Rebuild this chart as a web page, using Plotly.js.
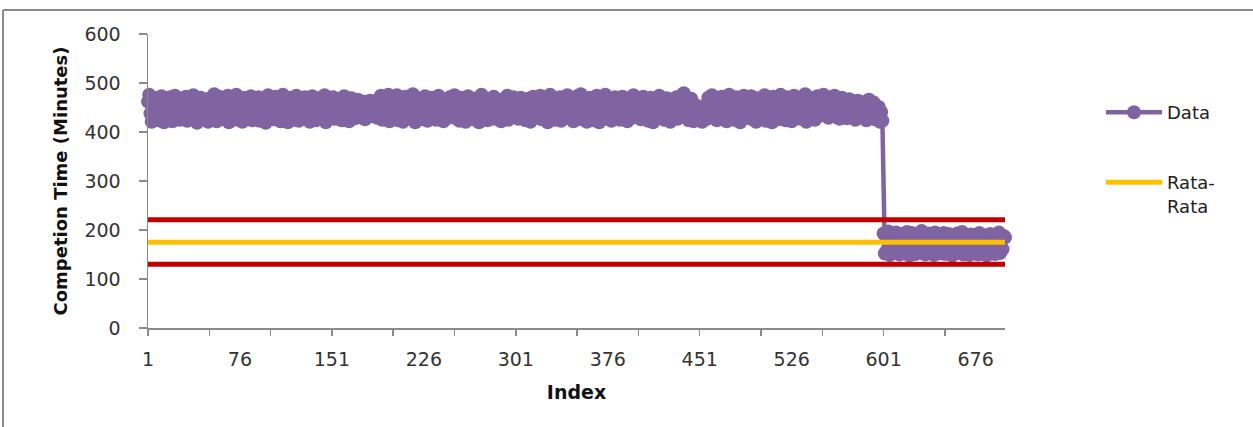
<!DOCTYPE html>
<html>
<head>
<meta charset="utf-8">
<script src="https://cdn.plot.ly/plotly-3.0.1.min.js"></script>
<style>
  html, body { margin: 0; padding: 0; background: #ffffff; }
  #chart { width: 1253px; height: 427px; }
</style>
</head>
<body>
<div id="chart"></div>
<script>
// ---- Data ----
// Completion time per index, phase 1 (index 1-600)
const phase1 = [
  462,476,438,421,455,470,429,447,468,424, 451,473,433,420,459,466,427,444,471,436,
  422,457,474,431,449,463,425,440,469,434, 452,472,423,446,461,428,437,475,430,454,
  419,465,441,470,426,448,458,432,467,421,
  445,469,428,453,477,434,422,460,472,439, 426,456,468,431,443,474,420,450,465,437,
  429,462,476,425,448,458,433,421,470,442, 455,467,427,436,473,424,451,463,430,446,
  471,423,459,440,466,432,419,457,475,435,
  449,464,426,438,472,431,454,467,422,444, 476,429,457,441,420,463,470,433,447,425,
  460,474,436,423,452,468,430,443,471,427, 456,439,421,465,473,434,448,424,461,442,
  469,428,453,437,475,420,450,466,432,445,
  458,471,427,440,463,430,452,468,424,446, 473,433,455,438,422,461,469,435,449,428,
  457,466,441,431,454,462,437,426,459,445, 450,464,432,443,456,439,460,429,467,436,
  474,425,453,470,431,448,476,422,465,440,
  468,430,455,475,424,447,462,437,421,459, 472,433,444,466,427,451,477,435,420,457,
  469,429,442,464,426,453,473,438,423,460, 445,470,431,448,463,425,456,474,434,441,
  467,422,450,461,428,439,471,432,458,446,
  475,428,452,466,423,443,470,436,459,421, 448,473,431,455,464,426,440,468,433,457,
  420,461,476,429,446,469,437,424,454,463, 432,450,472,427,444,458,435,465,422,453,
  467,430,441,474,425,449,460,434,471,438,
  456,465,427,442,470,431,453,461,424,447, 468,436,421,458,472,429,445,463,433,451,
  474,426,440,467,435,455,420,462,476,430, 448,469,425,443,459,437,471,423,452,464,
  432,446,475,428,457,466,434,422,460,441,
  473,429,450,477,426,444,464,436,421,458, 470,432,447,466,424,455,474,438,420,461,
  468,430,442,476,427,452,463,435,423,459, 446,471,431,449,465,425,456,472,433,440,
  469,422,453,462,428,445,475,434,460,439,
  448,467,426,441,472,430,455,463,423,446, 470,434,420,457,466,428,443,474,432,452,
  461,425,439,469,436,450,421,464,458,429, 447,471,427,444,460,433,476,479,431,454,
  465,424,442,468,435,422,456,437,428,449,
  430,445,421,452,438,426,458,470,433,447, 475,429,463,441,424,468,454,436,472,427,
  459,444,422,466,476,431,450,462,425,439, 471,434,456,420,465,443,474,428,453,467,
  432,448,473,426,460,437,421,469,446,435,
  464,429,452,475,423,441,467,434,457,420, 472,438,446,463,426,454,476,431,443,469,
  424,459,471,436,449,422,465,474,430,455, 440,468,427,451,462,433,477,421,458,445,
  470,428,437,466,425,453,473,432,460,442,
  456,476,434,448,468,429,453,471,438,444, 474,431,459,465,427,450,470,436,442,462,
  428,455,467,433,447,440,458,425,452,464, 437,445,461,430,449,457,424,443,466,432,
  454,439,460,426,446,435,451,421,441,423
];
// Completion time per index, phase 2 (index 601-700)
const phase2 = [
  193,152,186,160,197,149,178,190,155,171, 195,158,183,150,192,166,188,153,175,196,
  161,148,185,194,157,180,151,191,169,187, 154,198,163,176,150,189,159,193,172,156,
  184,149,195,165,181,152,190,158,177,194,
  151,186,162,192,155,179,148,188,170,157, 193,153,183,160,196,150,174,189,156,185,
  149,191,164,154,187,158,181,150,194,167, 152,190,159,178,148,186,163,192,155,172,
  189,151,184,157,195,153,180,161,188,185
];
const dataValues = phase1.concat(phase2);
const firstIndex = 1;
const lastIndex = dataValues.length;       // 700

const meanValue = 175;   // Rata-Rata
const uclValue  = 221;   // upper red line
const lclValue  = 130;   // lower red line

const xTickStart = 1;
const xLabelStep = 75;   // labels 1, 76, 151, ...
const xMarkStep  = 50;   // tick marks every 50
const yTickStep  = 100;

const purple = '#8064A2';
const red    = '#C00000';
const yellow = '#FFC000';

const traces = [
  {
    name: 'Data',
    type: 'scatter',
    mode: 'lines+markers',
    x0: firstIndex, dx: 1,
    y: dataValues,
    line: { color: purple, width: 4.5 },
    marker: { color: purple, size: 14, line: { width: 0 } },
    cliponaxis: false,
    legend: 'legend'
  },
  {
    name: 'UCL',
    type: 'scatter', mode: 'lines',
    x: [firstIndex, lastIndex], y: [uclValue, uclValue],
    line: { color: red, width: 5 },
    showlegend: false, hoverinfo: 'skip'
  },
  {
    name: 'LCL',
    type: 'scatter', mode: 'lines',
    x: [firstIndex, lastIndex], y: [lclValue, lclValue],
    line: { color: red, width: 5 },
    showlegend: false, hoverinfo: 'skip'
  },
  {
    name: 'Rata-<br>Rata',
    type: 'scatter', mode: 'lines',
    x: [firstIndex, lastIndex], y: [meanValue, meanValue],
    line: { color: yellow, width: 5 },
    legend: 'legend2'
  },
  {
    // helper so the tick-mark axis (x2) is drawn; fully transparent
    name: 'marks', type: 'scatter', mode: 'lines',
    x: [firstIndex, lastIndex], y: [meanValue, meanValue],
    xaxis: 'x2', opacity: 0, line: { width: 0 },
    showlegend: false, hoverinfo: 'skip'
  }
];

const tickFont = { family: 'DejaVu Sans', size: 19, color: '#333333' };
const legendFont = { family: 'DejaVu Sans', size: 18, color: '#222222' };

const layout = {
  width: 1253, height: 427,
  margin: { l: 148, r: 248, t: 34, b: 99 },
  paper_bgcolor: '#ffffff',
  plot_bgcolor: '#ffffff',
  showlegend: true,
  xaxis: {
    range: [firstIndex, lastIndex],
    tickmode: 'linear', tick0: xTickStart, dtick: xLabelStep,
    ticks: '', ticklabelstandoff: 14,
    showgrid: false, zeroline: false,
    showline: true, linecolor: '#8a8a8a', linewidth: 1.5,
    tickfont: tickFont,
    title: { text: 'Index', font: { family: 'DejaVu Sans', size: 19, color: '#111111', weight: 'bold' }, standoff: 16 }
  },
  xaxis2: {
    overlaying: 'x', anchor: 'y', side: 'bottom',
    range: [firstIndex, lastIndex],
    tickmode: 'linear', tick0: xTickStart, dtick: xMarkStep,
    ticks: 'outside', ticklen: 7, tickwidth: 1.5, tickcolor: '#8a8a8a',
    showticklabels: false, showgrid: false, zeroline: false, showline: false
  },
  yaxis: {
    range: [0, 600],
    tickmode: 'linear', tick0: 0, dtick: yTickStep,
    ticks: 'outside', ticklen: 8, tickwidth: 1.5, tickcolor: '#8a8a8a',
    ticklabelstandoff: 14,
    showgrid: false, zeroline: false,
    showline: true, linecolor: '#8a8a8a', linewidth: 1.5,
    tickfont: tickFont,
    title: { text: 'Competion Time (Minutes)', font: { family: 'DejaVu Sans', size: 18, color: '#111111', weight: 'bold' }, standoff: 12 }
  },
  legend: {
    xref: 'container', yref: 'container',
    x: 1101 / 1253, y: 1 - 94 / 427, xanchor: 'left', yanchor: 'top',
    font: legendFont, itemwidth: 56, bgcolor: 'rgba(0,0,0,0)', valign: 'top'
  },
  legend2: {
    xref: 'container', yref: 'container',
    x: 1101 / 1253, y: 1 - 164 / 427, xanchor: 'left', yanchor: 'top',
    font: legendFont, itemwidth: 56, bgcolor: 'rgba(0,0,0,0)', valign: 'top'
  },
  shapes: [
    { type: 'line', xref: 'paper', yref: 'paper',
      x0: (3 - 148) / 857, x1: (1253 - 148) / 857, y0: 1 + 24 / 294, y1: 1 + 24 / 294,
      line: { color: '#8a8a8a', width: 2 } },
    { type: 'line', xref: 'paper', yref: 'paper',
      x0: (3 - 148) / 857, x1: (3 - 148) / 857, y0: 1 + 24 / 294, y1: -99 / 294,
      line: { color: '#8a8a8a', width: 2 } }
  ]
};

Plotly.newPlot('chart', traces, layout, { staticPlot: true, displayModeBar: false });
</script>
</body>
</html>
